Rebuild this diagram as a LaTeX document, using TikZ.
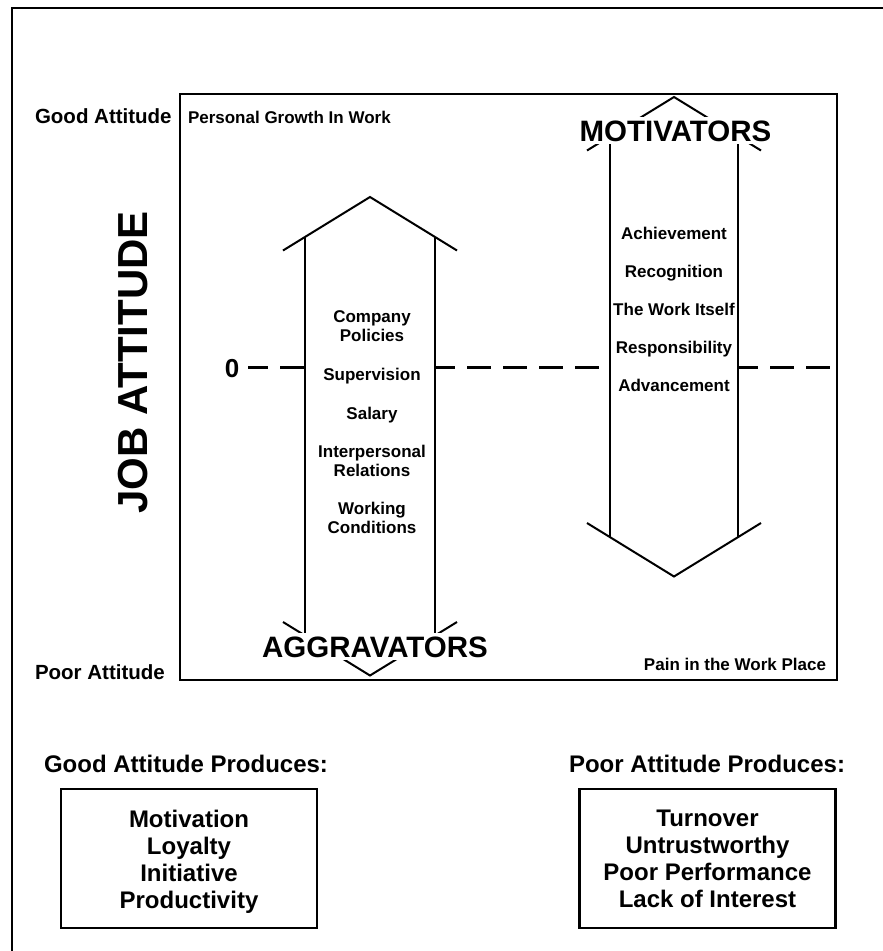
\documentclass[tikz,border=0pt]{standalone}
\usepackage{fontspec}
\setmainfont{Liberation Sans}
\begin{document}
\begin{tikzpicture}[x=1pt, y=-1pt,
  every node/.style={inner sep=0pt, outer sep=0pt},
  frameline/.style={line width=2.5pt, black},
  arrowline/.style={line width=2pt, black, line join=miter},
  zeroline/.style={line width=3pt, dash pattern=on 24pt off 12pt, dash phase=4pt},
  sidelabel/.style={font=\bfseries\fontsize{20.5}{24}\selectfont},
  cornerlabel/.style={font=\bfseries\fontsize{17}{19}\selectfont},
  factor/.style={font=\bfseries\fontsize{17}{19}\selectfont, align=center},
  bigtitle/.style={font=\bfseries\fontsize{29.5}{32}\selectfont, fill=white, inner xsep=2pt, inner ysep=3pt},
  heading/.style={font=\bfseries\fontsize{24}{27}\selectfont},
  outcomes/.style={font=\bfseries\fontsize{24}{27}\selectfont, align=center},
  resultbox/.style={draw, line width=2.5pt, minimum width=256pt, minimum height=139pt},
  chartbox/.style={draw, line width=2.5pt, minimum width=657pt, minimum height=586pt},
]
\useasboundingbox (0,0) rectangle (883,951);
\clip (0,0) rectangle (883,951);

% page frame (its right and bottom edges run off the page)
\draw[frameline] (12,980) -- (12,8) -- (910,8);

% chart area
\node[chartbox] (chart) at (508.5,387) {};

% axis labels
\node[sidelabel, anchor=base west] (goodatt) at (35,123) {Good Attitude};
\node[sidelabel, anchor=base west] (pooratt) at (35,679) {Poor Attitude};
\node[cornerlabel, anchor=base west] (growth) at (188,123) {Personal Growth In Work};
\node[cornerlabel, anchor=base east] (pain) at (826,670) {Pain in the Work Place};
\node[font=\bfseries\fontsize{42}{46}\selectfont, rotate=90, anchor=base] (jobatt) at (147,362.5) {JOB ATTITUDE};
\node[font=\bfseries\fontsize{26}{30}\selectfont, anchor=base] (zero) at (232,377) {0};

% zero line, broken by the two arrows
\draw[zeroline] (248,367) -- (305,367);
\draw[zeroline] (435,367) -- (610,367);
\draw[zeroline] (738,367) -- (chart.east |- 0,367);

% upward arrow (aggravators)
\draw[arrowline] (283,250.5) -- (370,197) -- (457,250.5);
\draw[arrowline] (305,237) -- (305,636);
\draw[arrowline] (435,237) -- (435,636);
\draw[arrowline] (283,622) -- (370,675.5) -- (457,622);

% downward arrow (motivators)
\draw[arrowline] (587,150.5) -- (674,97) -- (761,150.5);
\draw[arrowline] (610,136.4) -- (610,537.1);
\draw[arrowline] (738,136.4) -- (738,537.1);
\draw[arrowline] (587,523) -- (674,576.5) -- (761,523);

\node[bigtitle, anchor=base] (motiv) at (675.5,141) {MOTIVATORS};
\node[bigtitle, anchor=base] (aggrav) at (375,657) {AGGRAVATORS};

% hygiene factors
\node[factor, anchor=north] (policies) at (372,310.7) {Company\\Policies};
\node[factor, anchor=base] (supervision) at (372,380) {Supervision};
\node[factor, anchor=base] (salary) at (372,419) {Salary};
\node[factor, anchor=north] (relations) at (372,444.7) {Interpersonal\\Relations};
\node[factor, anchor=north] (conditions) at (372,501.7) {Working\\Conditions};

% motivating factors
\node[factor, anchor=base] (achieve) at (674,239) {Achievement};
\node[factor, anchor=base] (recog) at (674,277) {Recognition};
\node[factor, anchor=base] (work) at (674,315) {The Work Itself};
\node[factor, anchor=base] (resp) at (674,353) {Responsibility};
\node[factor, anchor=base] (advance) at (674,391) {Advancement};

% outcomes
\node[heading, anchor=base west] (goodhead) at (44,772) {Good Attitude Produces:};
\node[heading, anchor=base] (poorhead) at (707,772) {Poor Attitude Produces:};
\node[resultbox] (goodbox) at (189,858.5) {};
\node[resultbox] (poorbox) at (707.5,858.5) {};
\node[outcomes, anchor=north] (goodlist) at (189,809.8) {Motivation\\Loyalty\\Initiative\\Productivity};
\node[outcomes, anchor=north] (poorlist) at (707.5,809.8) {Turnover\\Untrustworthy\\Poor Performance\\Lack of Interest};
\end{tikzpicture}
\end{document}
